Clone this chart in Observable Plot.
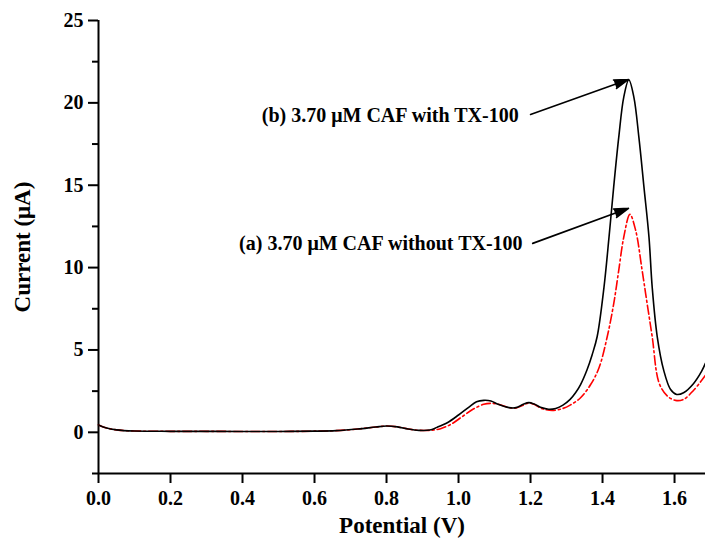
<!DOCTYPE html>
<html>
<head>
<meta charset="utf-8">
<script src="https://cdn.jsdelivr.net/npm/d3@7"></script>
<script src="https://cdn.jsdelivr.net/npm/@observablehq/plot@0.6"></script>
<style>
  html, body { margin: 0; padding: 0; background: #ffffff; }
  #chart svg { display: block; }
</style>
</head>
<body>
<div id="chart"></div>
<script>
// Differential pulse voltammograms of caffeine (CAF)
// (b) with TX-100, solid black line
const potentialB = [0.00, 0.02, 0.05, 0.10, 0.20, 0.30, 0.40, 0.50, 0.60, 0.66, 0.72, 0.77, 0.80, 0.83, 0.86, 0.89, 0.92,
  0.94, 0.97, 1.00, 1.03, 1.05, 1.07, 1.09, 1.11, 1.14, 1.16, 1.18, 1.195, 1.21, 1.23, 1.25, 1.27, 1.29, 1.31, 1.325,
  1.339, 1.357, 1.371, 1.385, 1.404, 1.418, 1.431, 1.445, 1.459, 1.473, 1.487, 1.501, 1.515, 1.529, 1.538, 1.552,
  1.570, 1.589, 1.606, 1.625, 1.653, 1.675, 1.686];
const currentB = [0.45, 0.28, 0.15, 0.08, 0.06, 0.06, 0.05, 0.05, 0.07, 0.10, 0.20, 0.32, 0.38, 0.33, 0.20, 0.12, 0.14,
  0.30, 0.60, 1.05, 1.55, 1.85, 1.94, 1.90, 1.70, 1.50, 1.50, 1.70, 1.80, 1.72, 1.50, 1.40, 1.45, 1.65, 2.00, 2.40,
  2.90, 3.80, 4.70, 5.80, 8.80, 11.85, 14.90, 17.90, 20.35, 21.40, 20.35, 17.90, 14.90, 11.85, 8.80, 5.80,
  3.76, 2.60, 2.30, 2.40, 2.97, 3.70, 4.20];

// (a) without TX-100, red dash-dot line
const potentialA = [0.00, 0.02, 0.05, 0.10, 0.20, 0.30, 0.40, 0.50, 0.60, 0.66, 0.72, 0.77, 0.80, 0.83, 0.86, 0.89, 0.92,
  0.95, 0.98, 1.01, 1.04, 1.07, 1.09, 1.11, 1.14, 1.16, 1.18, 1.195, 1.21, 1.23, 1.26, 1.29, 1.31, 1.339, 1.367, 1.39,
  1.413, 1.431, 1.445, 1.459, 1.476, 1.492, 1.510, 1.524, 1.538, 1.557, 1.580, 1.603, 1.625, 1.653, 1.686];
const currentA = [0.45, 0.28, 0.15, 0.08, 0.06, 0.06, 0.05, 0.05, 0.07, 0.10, 0.20, 0.32, 0.38, 0.33, 0.20, 0.12, 0.12,
  0.22, 0.50, 0.95, 1.40, 1.70, 1.76, 1.70, 1.50, 1.48, 1.65, 1.78, 1.70, 1.45, 1.33, 1.45, 1.65, 2.10, 2.90, 3.90,
  5.80, 7.80, 9.83, 11.85, 13.23, 12.26, 9.83, 7.80, 5.80, 3.00, 2.20, 1.94, 2.00, 2.55, 3.46];

// Axis ticks
const xTicks = [0.0, 0.2, 0.4, 0.6, 0.8, 1.0, 1.2, 1.4, 1.6];
const yMajorTicks = [0, 5, 10, 15, 20, 25];
const yMinorTicks = [-2.5, 2.5, 7.5, 12.5, 17.5, 22.5];
const xDomain = [0, 1.686];
const yDomain = [-2.5, 25];

// Annotations: label text, label anchor (end of text), arrow start and tip
const noteText = ["(b) 3.70 \u03bcM CAF with TX-100", "(a) 3.70 \u03bcM CAF without TX-100"];
const noteX = [1.167, 1.178];
const noteY = [19.24, 11.47];
const arrowX1 = [1.200, 1.206];
const arrowY1 = [19.30, 11.47];
const arrowX2 = [1.472, 1.472];
const arrowY2 = [21.42, 13.60];

const seriesB = potentialB.map((p, i) => ({potential: p, current: currentB[i]}));
const seriesA = potentialA.map((p, i) => ({potential: p, current: currentA[i]}));
const notes = noteText.map((t, i) => ({text: t, x: noteX[i], y: noteY[i]}));
const arrows = arrowX1.map((x1, i) => ({x1, y1: arrowY1[i], x2: arrowX2[i], y2: arrowY2[i]}));

const serif = "'Liberation Serif', 'Times New Roman', Times, serif";

const chart = Plot.plot({
  width: 705,
  height: 544,
  marginLeft: 98,
  marginRight: 0,
  marginTop: 20,
  marginBottom: 71,
  style: {fontFamily: serif, fontWeight: "bold", background: "#ffffff", color: "#000000", overflow: "visible"},
  x: {domain: xDomain, axis: null},
  y: {domain: yDomain, axis: null},
  marks: [
    // axis lines
    Plot.ruleX([0], {stroke: "black", strokeWidth: 2}),
    Plot.ruleY([-2.5], {stroke: "black", strokeWidth: 2}),
    // x ticks and labels
    Plot.ruleX(xTicks, {x: d => d, y1: -2.5, y2: -2.5, insetBottom: -10, stroke: "black", strokeWidth: 2}),
    Plot.text(xTicks, {x: d => d, y: -2.5, dy: 25, text: d => d3.format(".1f")(d), fontSize: 20, fontWeight: "bold"}),
    // y ticks and labels
    Plot.ruleY(yMajorTicks, {y: d => d, x1: 0, x2: 0, insetLeft: -10, stroke: "black", strokeWidth: 2}),
    Plot.ruleY(yMinorTicks, {y: d => d, x1: 0, x2: 0, insetLeft: -6, stroke: "black", strokeWidth: 2}),
    Plot.text(yMajorTicks, {x: 0, y: d => d, dx: -15, textAnchor: "end", text: d => String(d), fontSize: 20, fontWeight: "bold"}),
    // axis titles
    Plot.text(["Potential (V)"], {frameAnchor: "bottom", textAnchor: "middle", dy: 59, fontSize: 23, fontWeight: "bold"}),
    Plot.text(["Current (\u03bcA)"], {frameAnchor: "left", textAnchor: "middle", dx: -76, rotate: -90, fontSize: 23, fontWeight: "bold"}),
    // voltammograms
    Plot.line(seriesA, {x: "potential", y: "current", curve: "catmull-rom", stroke: "#ff0000", strokeWidth: 1.6, strokeDasharray: "9,3,2,3"}),
    Plot.line(seriesB, {x: "potential", y: "current", curve: "catmull-rom", stroke: "#000000", strokeWidth: 1.6}),
    // annotations
    Plot.arrow(arrows, {x1: "x1", y1: "y1", x2: "x2", y2: "y2", stroke: "black", fill: "black", strokeWidth: 1.6, headLength: 14, headAngle: 35}),
    Plot.text(notes, {x: "x", y: "y", text: "text", textAnchor: "end", fontSize: 20, fontWeight: "bold"})
  ]
});
document.getElementById("chart").appendChild(chart);
</script>
</body>
</html>
